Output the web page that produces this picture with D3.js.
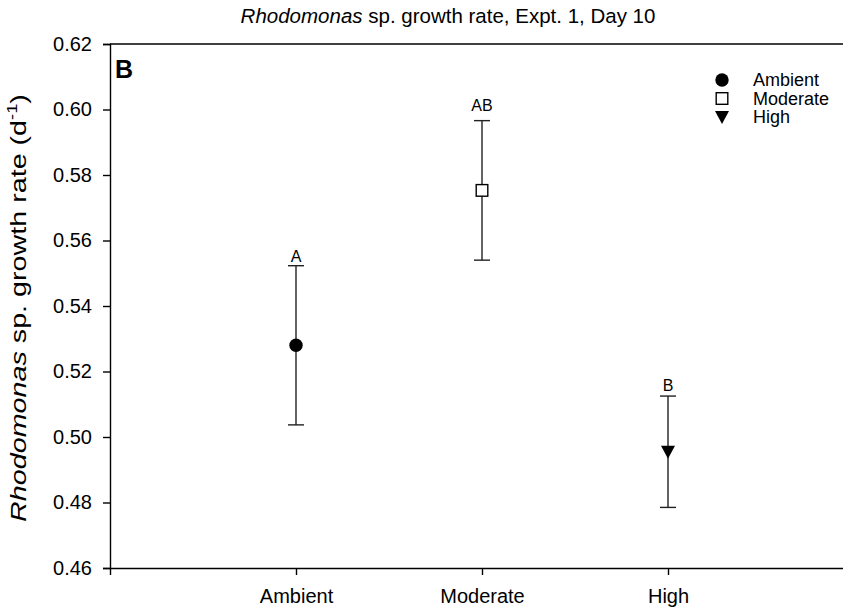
<!DOCTYPE html>
<html>
<head>
<meta charset="utf-8">
<script src="https://cdn.jsdelivr.net/npm/d3@7/dist/d3.min.js"></script>
<style>
  body { margin: 0; background: #fff; }
  svg { display: block; font-family: "Liberation Sans", Arial, sans-serif; }
</style>
</head>
<body>
<svg id="chart" width="843" height="612"></svg>
<script>
// Treatment groups and their mean growth rates (d^-1) with error
const categories = ["Ambient", "Moderate", "High"];
const means = [0.528, 0.5753, 0.4955];
const errors = [0.0243, 0.0213, 0.0170];
const letters = ["A", "AB", "B"];
const yTicks = [0.46, 0.48, 0.50, 0.52, 0.54, 0.56, 0.58, 0.60, 0.62];
const symbols = ["circle", "square", "triangle"];

// Layout: gap (px) between each significance letter and its error cap
const letterGap = [4, 10, 5];

const svg = d3.select("#chart");
const margin = { left: 110, top: 44, bottom: 568 };
const plotRight = 854;

const x = d3.scaleLinear().domain([0, 4]).range([margin.left, plotRight]);
const y = d3.scaleLinear().domain([0.46, 0.62]).range([margin.bottom, margin.top]);

// Top frame line
svg.append("line")
  .attr("x1", margin.left).attr("x2", plotRight)
  .attr("y1", margin.top).attr("y2", margin.top)
  .attr("stroke", "#000").attr("stroke-width", 1.4);

// Y axis
const yAxis = svg.append("g")
  .attr("transform", `translate(${margin.left},0)`)
  .call(d3.axisLeft(y).tickValues(yTicks).tickFormat(d3.format(".2f")).tickSizeOuter(0).tickSize(7).tickPadding(11));
yAxis.select(".domain").attr("stroke-width", 1.4);
yAxis.selectAll(".tick line").attr("stroke-width", 1.4);
yAxis.selectAll("text").attr("font-size", 20).attr("fill", "#000");

// X axis
const xAxis = svg.append("g")
  .attr("transform", `translate(0,${margin.bottom})`)
  .call(d3.axisBottom(x).tickValues([1, 2, 3]).tickFormat(i => categories[i - 1]).tickSizeOuter(0).tickSize(7).tickPadding(14));
xAxis.select(".domain").attr("stroke-width", 1.4);
xAxis.selectAll(".tick line").attr("stroke-width", 1.4);
xAxis.selectAll("text").attr("font-size", 20).attr("fill", "#000");

// Error bars
const capHalf = 8;
const bars = svg.append("g").attr("stroke", "#222").attr("stroke-width", 1.4);
categories.forEach((c, i) => {
  const cx = x(i + 1);
  const hi = y(means[i] + errors[i]);
  const lo = y(means[i] - errors[i]);
  bars.append("line").attr("x1", cx).attr("x2", cx).attr("y1", hi).attr("y2", lo);
  bars.append("line").attr("x1", cx - capHalf).attr("x2", cx + capHalf).attr("y1", hi).attr("y2", hi);
  bars.append("line").attr("x1", cx - capHalf).attr("x2", cx + capHalf).attr("y1", lo).attr("y2", lo);
});

// Marker drawing helper
function drawMarker(g, type, cx, cy) {
  if (type === "circle") {
    g.append("circle").attr("cx", cx).attr("cy", cy).attr("r", 6.7).attr("fill", "#000");
  } else if (type === "square") {
    g.append("rect").attr("x", cx - 5.8).attr("y", cy - 5.8).attr("width", 11.6).attr("height", 11.6)
      .attr("fill", "#fff").attr("stroke", "#000").attr("stroke-width", 1.4);
  } else {
    g.append("path").attr("d", `M${cx - 7},${cy - 6} L${cx + 7},${cy - 6} L${cx},${cy + 7} Z`).attr("fill", "#000");
  }
}

const markers = svg.append("g");
categories.forEach((c, i) => drawMarker(markers, symbols[i], x(i + 1), y(means[i])));

// Significance letters above error caps
svg.append("g").selectAll("text").data(letters).join("text")
  .attr("x", (d, i) => x(i + 1))
  .attr("y", (d, i) => y(means[i] + errors[i]) - letterGap[i])
  .attr("text-anchor", "middle")
  .attr("font-size", 16)
  .text(d => d);

// Panel label
svg.append("text").attr("x", 115).attr("y", 78)
  .attr("font-size", 25).attr("font-weight", "bold").text("B");

// Title
const title = svg.append("text").attr("x", 448).attr("y", 23)
  .attr("text-anchor", "middle").attr("font-size", 20.5);
title.append("tspan").attr("font-style", "italic").text("Rhodomonas");
title.append("tspan").text(" sp. growth rate, Expt. 1, Day 10");

// Y axis title, stretched along its run to span the axis
const yTitleG = svg.append("g");
const yTitle = yTitleG.append("text")
  .attr("text-anchor", "middle").attr("font-size", 22);
yTitle.append("tspan").attr("font-style", "italic").text("Rhodomonas");
yTitle.append("tspan").text(" sp. growth rate (d");
yTitle.append("tspan").attr("font-size", 14).attr("dy", -9).text("-1");
yTitle.append("tspan").attr("dy", 9).text(")");
const yTitleLen = yTitle.node().getComputedTextLength();
const yTitleSpan = 428;
yTitleG.attr("transform", `translate(26,308) rotate(-90) scale(${yTitleSpan / yTitleLen},1)`);

// Legend
const legend = svg.append("g");
categories.forEach((c, i) => {
  const ly = 80 + i * 18.5;
  drawMarker(legend, symbols[i], 722, ly);
  legend.append("text").attr("x", 753).attr("y", ly + 6).attr("font-size", 18).text(c);
});
</script>
</body>
</html>
